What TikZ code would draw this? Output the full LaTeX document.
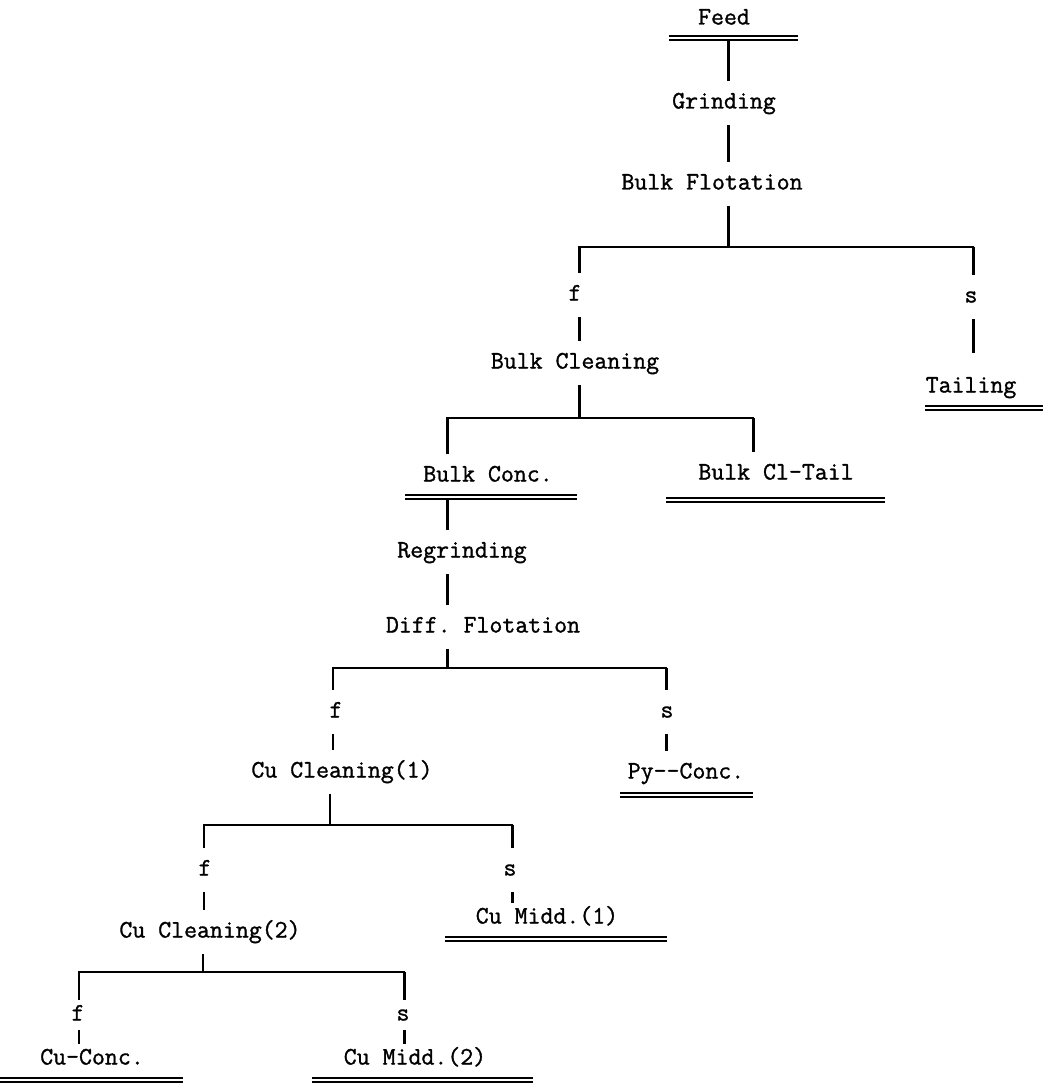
\documentclass[tikz,border=0pt]{standalone}
\usepackage{fontspec}
\setmonofont{Latin Modern Mono}[FakeBold=1.2]

\begin{document}
\begin{tikzpicture}[x=0.02cm,y=-0.02cm,lbl/.style={inner xsep=0pt,inner ysep=0.22cm,text height=0.32cm,text depth=0.1cm,font=\fontsize{14.3}{16}\selectfont\ttfamily\bfseries},low/.style={lbl,inner ysep=0.08cm},vline/.style={line width=1.7pt},hline/.style={line width=1.1pt,line cap=rect},uline/.style={double,line width=0.9pt,double distance=1.3pt}]
\useasboundingbox (0,0) rectangle (1049,1091);
\node[lbl] (feed) at (724,19) {Feed}; \node[lbl] (grind) at (724,103) {Grinding}; \node[lbl] (bflot) at (712,184) {Bulk Flotation};
\coordinate (j0) at (728,247); \coordinate (j0l) at (579,247); \coordinate (j0r) at (973,247);
\draw[uline] (669,38)--(798,38);
\draw[vline] (feed.south -| j0)--(grind.north -| j0); \draw[vline] (grind.south -| j0)--(bflot.north -| j0); \draw[vline] (bflot.south -| j0)--(j0);
\draw[hline] (j0l)--(j0r);
\node[lbl] (f1) at (575,295) {f}; \node[lbl] (bclean) at (575,363) {Bulk Cleaning};
\node[lbl] (s1) at (971,297) {s}; \node[lbl,inner ysep=0.46cm] (tail) at (971,387) {Tailing};
\draw[vline] (j0l)--(f1.north -| j0l); \draw[vline] (f1.south -| j0l)--(bclean.north -| j0l);
\draw[vline] (j0r)--(s1.north -| j0r); \draw[vline] (s1.south -| j0r)--(tail.north -| j0r);
\draw[uline] (925,408)--(1043,408);
\coordinate (j1) at (579,418); \coordinate (j1l) at (447,418); \coordinate (j1r) at (753,418);
\draw[vline] (bclean.south -| j1)--(j1); \draw[hline] (j1l)--(j1r);
\node[lbl] (bconc) at (488,476) {Bulk Conc.}; \node[lbl] (bcltail) at (776,474) {Bulk Cl-Tail};
\draw[vline] (j1l)--(bconc.north -| j1l); \draw[vline] (j1r)--(bcltail.north -| j1r);
\draw[uline] (405,497)--(577,497); \draw[uline] (666,500)--(885,500);
\node[lbl] (regrind) at (462,552) {Regrinding}; \node[lbl] (diff) at (483,627) {Diff. Flotation};
\coordinate (j2) at (447,668); \coordinate (j2l) at (333,668); \coordinate (j2r) at (666,668);
\draw[vline] (bconc.south -| j1l)--(regrind.north -| j1l); \draw[vline] (regrind.south -| j2)--(diff.north -| j2); \draw[vline] (diff.south -| j2)--(j2);
\draw[hline] (j2l)--(j2r);
\node[lbl] (f2) at (336,712) {f}; \node[lbl] (s2) at (667,712) {s};
\node[lbl] (cu1) at (342,772) {Cu Cleaning(1)}; \node[lbl] (py) at (686,773) {Py-{}-Conc.};
\draw[vline] (j2l)--(f2.north -| j2l); \draw[vline] (f2.south -| j2l)--(cu1.north -| j2l);
\draw[vline] (j2r)--(s2.north -| j2r); \draw[vline] (s2.south -| j2r)--(py.north -| j2r);
\draw[uline] (620,795)--(753,795);
\coordinate (j3) at (330,825); \coordinate (j3l) at (204,825); \coordinate (j3r) at (512,825);
\draw[vline] (cu1.south -| j3)--(j3); \draw[hline] (j3l)--(j3r);
\node[lbl] (f3) at (205,870) {f}; \node[lbl] (s3) at (510,870) {s};
\node[lbl] (cu2) at (210,932) {Cu Cleaning(2)}; \node[low] (midd1) at (547,918) {Cu Midd.(1)};
\draw[vline] (j3l)--(f3.north -| j3l); \draw[vline] (f3.south -| j3l)--(cu2.north -| j3l);
\draw[vline] (j3r)--(s3.north -| j3r); \draw[vline] (s3.south -| j3r)--(midd1.north -| j3r);
\draw[uline] (445,939)--(667,939);
\coordinate (j4) at (203,972); \coordinate (j4l) at (79,972); \coordinate (j4r) at (404,972);
\draw[vline] (cu2.south -| j4)--(j4); \draw[hline] (j4l)--(j4r);
\node[low] (f4) at (78,1015) {f}; \node[low] (s4) at (403,1015) {s};
\node[low] (cuconc) at (92,1059) {Cu-Conc.}; \node[low] (midd2) at (415,1059) {Cu Midd.(2)};
\draw[vline] (j4l)--(f4.north -| j4l); \draw[vline] (f4.south -| j4l)--(cuconc.north -| j4l);
\draw[vline] (j4r)--(s4.north -| j4r); \draw[vline] (s4.south -| j4r)--(midd2.north -| j4r);
\draw[uline] (0,1080)--(183,1080); \draw[uline] (312,1080)--(533,1080);
\end{tikzpicture}
\end{document}
